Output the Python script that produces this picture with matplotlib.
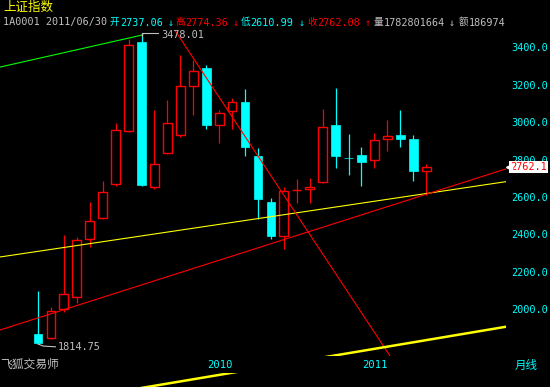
import matplotlib
matplotlib.use('Agg')
import matplotlib.pyplot as plt
import matplotlib.transforms as mtransforms

# ---------------- data ----------------
months = ['2008-12', '2009-01', '2009-02', '2009-03', '2009-04', '2009-05', '2009-06',
          '2009-07', '2009-08', '2009-09', '2009-10', '2009-11', '2009-12', '2010-01',
          '2010-02', '2010-03', '2010-04', '2010-05', '2010-06', '2010-07', '2010-08',
          '2010-09', '2010-10', '2010-11', '2010-12', '2011-01', '2011-02', '2011-03',
          '2011-04', '2011-05', '2011-06']
opens = [1870, 1849, 2000, 2066, 2377, 2486, 2668, 2951, 3428, 2652, 2837, 2933, 3191, 3287,
         2983, 3058, 3107, 2819, 2573, 2393, 2635, 2641, 2682, 2985, 2808, 2823, 2796, 2908,
         2930, 2910, 2737.06]
highs = [2100, 2014, 2397, 2386, 2573, 2685, 2995, 3442, 3478.01, 3065, 3118, 3359, 3332, 3305,
         3065, 3127, 3175, 2860, 2593, 2652, 2696, 2703, 3070, 3182, 2937, 2867, 2942, 3011,
         3065, 2931, 2774.36]
lows = [1814.75, 1844, 1985, 2035, 2333, 2482, 2660, 2945, 2659, 2641, 2831, 2922, 3040, 2963,
        2890, 2962, 2821, 2481, 2376, 2321, 2566, 2570, 2676, 2757, 2719, 2660, 2757, 2847,
        2869, 2687, 2610.99]
closes = [1820.8, 1990, 2080, 2370, 2472, 2625, 2958, 3412, 2664, 2775, 2994, 3191, 3271, 2985,
          3047, 3106, 2869, 2591, 2393, 2630, 2638, 2653, 2974, 2821, 2806, 2789, 2903, 2924,
          2911, 2740, 2762.08]
price_ticks = [2000, 2200, 2400, 2600, 2800, 3000, 3200, 3400]
year_marks = ['2010-01', '2011-01']
year_labels = ['2010', '2011']

# drawn trend lines (bar index, price)
green_x, green_y = [-2.94, 8.1], [3294, 3466]
yellow_x, yellow_y = [-2.94, 36.14], [2279.5, 2681.7]
redup_x, redup_y = [-2.94, 36.14], [1889.5, 2749.6]
reddown_x, reddown_y = [10.3, 27.3], [3520, 1741]
yellow2_x, yellow2_y = [-2.94, 36.17], [1453, 1907]

header_name = '上证指数'
header_code = '1A0001 2011/06/30'
volume_txt = '1782801664'
amount_txt = '186974'

# ---------------- layout ----------------
W, H = 550, 387
X0PX, DX = 38.0, 12.94          # pixel x of bar 0, pixel per bar
Y2600, PPP = 197.0, 0.1872      # pixel y of 2600, pixels per point

def px2i(px):
    return (px - X0PX) / DX

def py2p(py):
    return 2600 + (Y2600 - py) / PPP

def axrect(x0, y0, x1, y1):
    return [x0 / W, 1 - y1 / H, (x1 - x0) / W, (y1 - y0) / H]

RED = '#FF0000'
CYAN = '#00FFFF'
GRAY = '#C0C0C0'
YEL = '#FFFF00'
MONO = ['DejaVu Sans Mono', 'Noto Sans CJK SC']
CJK = ['Noto Sans CJK SC', 'DejaVu Sans']

fig = plt.figure(figsize=(5.5, 3.87), dpi=100, facecolor='black')

ax = fig.add_axes(axrect(0, 30, 506, 356))
ax2 = fig.add_axes(axrect(0, 373, 506, 387))
for a, (ya, yb) in ((ax, (356, 30)), (ax2, (387, 373))):
    a.set_facecolor('black')
    a.set_xlim(px2i(0), px2i(506))
    a.set_ylim(py2p(ya), py2p(yb))
    for s in a.spines.values():
        s.set_visible(False)
    a.set_xticks([])
ax2.set_yticks([])

# candles
xs = list(range(len(months)))
bw = 0.68
for i, o, h, l, c in zip(xs, opens, highs, lows, closes):
    top, bot = max(o, c), min(o, c)
    if c >= o:
        ax.plot([i, i], [top, h], color=RED, lw=0.9, solid_capstyle='butt', zorder=2)
        ax.plot([i, i], [l, bot], color=RED, lw=0.9, solid_capstyle='butt', zorder=2)
        ax.bar(i, top - bot, bottom=bot, width=bw, facecolor='black', edgecolor=RED,
               linewidth=1.0, zorder=3)
    else:
        ax.plot([i, i], [l, h], color=CYAN, lw=0.9, solid_capstyle='butt', zorder=2)
        ax.bar(i, max(top - bot, 1.5), bottom=bot, width=bw, facecolor=CYAN, edgecolor=CYAN,
               linewidth=0.5, zorder=3)

# trend lines
ax.plot(green_x, green_y, color='#00FF00', lw=0.8, zorder=4)
ax.plot(yellow_x, yellow_y, color=YEL, lw=0.8, zorder=4)
ax.plot(redup_x, redup_y, color=RED, lw=0.8, zorder=4)
ax.plot(reddown_x, reddown_y, color=RED, lw=0.8, zorder=4)
ax.plot(yellow2_x, yellow2_y, color=YEL, lw=1.8, zorder=4)
ax2.plot(yellow2_x, yellow2_y, color=YEL, lw=1.8, zorder=4)

# extreme labels
imax = highs.index(max(highs))
imin = lows.index(min(lows))
ax.plot([imax, imax, imax + 1.25], [max(highs) - 18, max(highs), max(highs)],
        color=GRAY, lw=0.8, zorder=5)
ax.text(imax + 1.5, max(highs) - 13, f'{max(highs):.2f}', color=GRAY, fontsize=7.4,
        family=MONO, va='center', ha='left', zorder=6)
ax.plot([imin, imin + 0.4, imin + 1.35], [min(lows), min(lows) - 11, min(lows) - 15],
        color=GRAY, lw=0.8, zorder=5)
ax.text(imin + 1.55, min(lows) - 17, f'{min(lows):.2f}', color=GRAY, fontsize=7.4,
        family=MONO, va='center', ha='left', zorder=6)

# right axis
ax.set_yticks(price_ticks)
ax.set_yticklabels([f'{v:.1f}' for v in price_ticks])
ax.yaxis.tick_right()
ax.tick_params(axis='y', length=0, pad=3.6, labelcolor=CYAN, labelsize=7.4)
for t in ax.get_yticklabels():
    t.set_family(MONO)

# last price marker
tr = mtransforms.blended_transform_factory(ax.transAxes, ax.transData)
last = closes[-1]
ax.text(1.0 + 4.5 / 506, last, f'{last:.1f}', transform=tr, color=RED, fontsize=7.4,
        family=MONO, va='center', ha='left', clip_on=False, zorder=7,
        bbox=dict(boxstyle='square,pad=0.1', facecolor='white', edgecolor='none'))
ax.plot([1.0 + 2.5 / 506], [last], transform=tr, marker='<', color='white', markersize=4,
        clip_on=False, zorder=7)

# year labels
trx = mtransforms.blended_transform_factory(ax.transData, fig.transFigure)
for m, lab in zip(year_marks, year_labels):
    ax.text(months.index(m) + 0.05, 1 - 364.5 / H, lab, transform=trx, color=CYAN,
            fontsize=7.6, family=MONO, va='center', ha='left', clip_on=False)
fig.text(515 / W, 1 - 365 / H, '月线', color=CYAN, fontsize=8.3, family=CJK,
         va='center', ha='left')
fig.text(0.5 / W, 1 - 364 / H, '飞狐交易师', color=GRAY, fontsize=8.5, family=CJK,
         va='center', ha='left')

# header
def ftxt(x, y, s, color, size=7.3, fam=MONO):
    fig.text(x / W, 1 - y / H, s, color=color, fontsize=size, family=fam,
             va='center', ha='left')

ftxt(3, 7.8, header_name, YEL, size=9.0, fam=CJK)
yh = 22.5
ftxt(3, yh, header_code, GRAY)
items = [
    (110.0, '开', 120.0, f'{opens[-1]:.2f}', 167.5, '↓', CYAN),
    (175.5, '高', 185.5, f'{highs[-1]:.2f}', 233.0, '↓', RED),
    (240.5, '低', 250.5, f'{lows[-1]:.2f}', 299.0, '↓', CYAN),
    (307.0, '收', 317.0, f'{closes[-1]:.2f}', 365.0, '↑', RED),
    (373.5, '量', 383.5, volume_txt, 449.0, '↓', GRAY),
]
for cx, ch, nx, num, arx, ar, col in items:
    ftxt(cx, yh, ch, col, size=6.9, fam=CJK)
    ftxt(nx, yh, num, col)
    ftxt(arx, yh, ar, col)
ftxt(458.5, yh, '额', GRAY, size=6.9, fam=CJK)
ftxt(468.5, yh, amount_txt, GRAY)

fig.savefig('out.png', dpi=100, facecolor='black')
